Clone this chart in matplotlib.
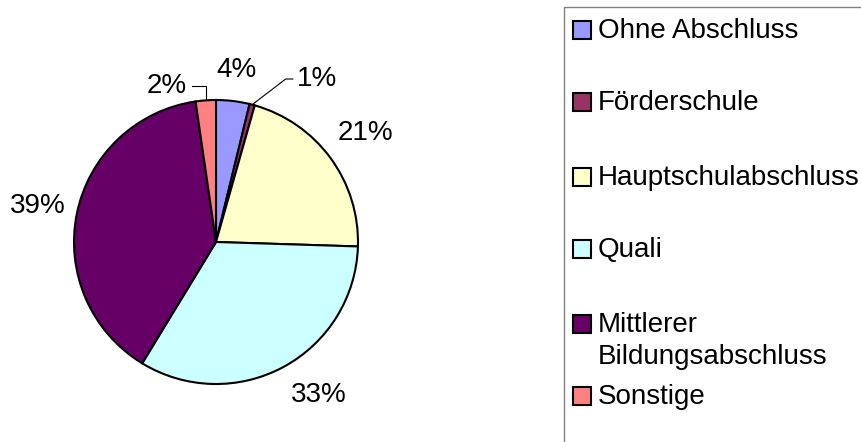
import numpy as np
import matplotlib
matplotlib.use("Agg")
import matplotlib.pyplot as plt
from matplotlib.patches import Rectangle

plt.rcParams['font.family'] = ['Liberation Sans', 'DejaVu Sans']

# -------- DATA --------
categories = ["Ohne Abschluss", "Förderschule", "Hauptschulabschluss",
              "Quali", "Mittlerer\nBildungsabschluss", "Sonstige"]
shares = [3.8, 0.6, 21.1, 33.2, 39.0, 2.3]
pct_labels = ["4%", "1%", "21%", "33%", "39%", "2%"]
colors = ["#9999FF", "#993366", "#FFFFCC", "#CCFFFF", "#660066", "#FF8080"]

# -------- LAYOUT --------
W, H = 862, 442
R = 142.0                 # pie radius in px
cx, cy = 216, 242         # pie centre in px (from top)
FS = 20

fig = plt.figure(figsize=(W / 100, H / 100), dpi=100)
fig.patch.set_facecolor("white")

# axes sized so that 1 data unit == R pixels
ax_w, ax_h = 2 * cx, 2 * (H - cy)
ax = fig.add_axes([0, 0, ax_w / W, ax_h / H])

wedges, _ = ax.pie(shares, colors=colors, startangle=90, counterclock=False,
                   wedgeprops=dict(edgecolor="black", linewidth=1.5))
ax.set_xlim(-cx / R, cx / R)
ax.set_ylim(-(H - cy) / R, (H - cy) / R)
ax.set_aspect("equal")
ax.axis("off")

# label placement: (distance in radii, angle shift in degrees)
label_style = [(1.22, 0), (1.35, -17), (1.30, 0), (1.30, 5.5), (1.28, 0), (1.15, 13.5)]

for w, txt, (dist, shift) in zip(wedges, pct_labels, label_style):
    mid_deg = (w.theta1 + w.theta2) / 2
    mid = np.deg2rad(mid_deg + shift)
    x, y = dist * np.cos(mid), dist * np.sin(mid)
    ax.text(x, y, txt, ha="center", va="center", fontsize=FS)
    if txt in ("1%", "2%"):
        ex, ey = np.cos(np.deg2rad(mid_deg)), np.sin(np.deg2rad(mid_deg))
        if txt == "1%":
            pts = [(ex, ey), (x - 0.22, y), (x - 0.17, y)]
        else:
            pts = [(ex, ey), (ex, y), (x + 0.18, y)]
        ax.plot([p[0] for p in pts], [p[1] for p in pts], color="black", lw=0.8)

# -------- LEGEND (manual, Excel style) --------
def fx(px):
    return px / W

def fy(py):
    return 1 - py / H

fig.add_artist(Rectangle((fx(564), fy(460)), fx(320), (460 - 7) / H,
                         transform=fig.transFigure, facecolor="none",
                         edgecolor="#808080", linewidth=1.0))

entry_y = [30, 102, 177, 249, 324, 396]
sq = 18
for name, col, yy in zip(categories, colors, entry_y):
    fig.add_artist(Rectangle((fx(573), fy(yy + sq / 2)), sq / W, sq / H,
                             transform=fig.transFigure, facecolor=col,
                             edgecolor="black", linewidth=1.5))
    fig.text(fx(598), fy(yy - 12), name, ha="left", va="top",
             fontsize=FS, linespacing=1.3)

fig.savefig("out.png", dpi=100, facecolor="white")
